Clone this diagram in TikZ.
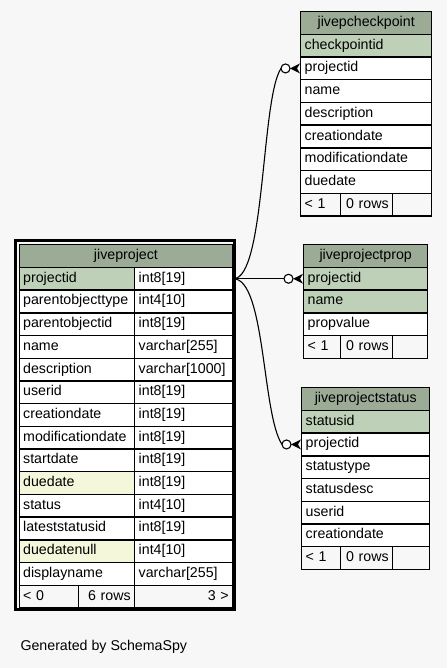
\documentclass[tikz,border=0pt]{standalone}
\usepackage{fontspec}
\setmainfont{Liberation Sans}
\usepackage{tikz}

\definecolor{bgc}{HTML}{F7F7F7}
\definecolor{headc}{HTML}{9BAB96}
\definecolor{pkc}{HTML}{BED1B8}
\definecolor{idxc}{HTML}{F4F7DA}

\begin{document}
\begin{tikzpicture}[x=1pt,y=-1pt]
        \tikzstyle{every node}+=[font=\fontsize{14.2}{16}\selectfont]
        \tikzstyle{cell}=[draw=black, line width=1.4pt, anchor=north west, minimum height=22.7pt,
                          inner xsep=4pt, inner ysep=0pt, text height=10pt, text depth=3pt, align=left]
        \tikzstyle{head}=[cell, fill=headc, align=center]
        \tikzstyle{foot}=[cell, fill=bgc]
        \tikzstyle{rel}=[line width=1.1pt]
        \fill [bgc] (0,0) rectangle (447,668);
        \useasboundingbox (0,0) rectangle (447,668);
        % jivepcheckpoint
        \node [head, text width=123pt] (cp-0) at (300,11) {jivepcheckpoint};
        \foreach \txt/\clr [count=\i] in {checkpointid/pkc, projectid/white, name/white, description/white,
                creationdate/white, modificationdate/white, duedate/white}
            \node [cell, fill=\clr, text width=123pt] (cp-\i) at (300,{11+22.7*\i}) {\txt};
        \node [foot, text width=32pt] (cp-f1) at (300,192.6) {< 1};
        \node [foot, text width=44pt, align=right] (cp-f2) at (340,192.6) {0 rows};
        \node [foot, text width=31pt] (cp-f3) at (392,192.6) {};
        % jiveprojectprop
        \node [head, text width=116pt] (pp-0) at (303,244) {jiveprojectprop};
        \foreach \txt/\clr [count=\i] in {projectid/pkc, name/pkc, propvalue/white}
            \node [cell, fill=\clr, text width=116pt] (pp-\i) at (303,{244+22.7*\i}) {\txt};
        \node [foot, text width=29pt] (pp-f1) at (303,334.8) {< 1};
        \node [foot, text width=44pt, align=right] (pp-f2) at (340,334.8) {0 rows};
        \node [foot, text width=27pt] (pp-f3) at (392,334.8) {};
        % jiveprojectstatus
        \node [head, text width=120pt] (ps-0) at (301,387) {jiveprojectstatus};
        \foreach \txt/\clr [count=\i] in {statusid/pkc, projectid/white, statustype/white, statusdesc/white,
                userid/white, creationdate/white}
            \node [cell, fill=\clr, text width=120pt] (ps-\i) at (301,{387+22.7*\i}) {\txt};
        \node [foot, text width=31pt] (ps-f1) at (301,545.9) {< 1};
        \node [foot, text width=44pt, align=right] (ps-f2) at (340,545.9) {0 rows};
        \node [foot, text width=29pt] (ps-f3) at (392,545.9) {};
        % jiveproject
        \node [head, text width=205.5pt] (jp-0) at (18.5,244) {jiveproject};
        \foreach \txt/\typ/\clr [count=\i] in {projectid/{int8[19]}/pkc, parentobjecttype/{int4[10]}/white,
                parentobjectid/{int8[19]}/white, name/{varchar[255]}/white, description/{varchar[1000]}/white,
                userid/{int8[19]}/white, creationdate/{int8[19]}/white, modificationdate/{int8[19]}/white,
                startdate/{int8[19]}/white, duedate/{int8[19]}/idxc, status/{int4[10]}/white,
                lateststatusid/{int8[19]}/white, duedatenull/{int4[10]}/idxc, displayname/{varchar[255]}/white}
        {
            \node [cell, fill=\clr, text width=107.5pt] (jp-\i) at (18.5,{244+22.7*\i}) {\txt};
            \node [cell, fill=white, text width=90pt] (jp-t\i) at (134,{244+22.7*\i}) {\typ};
        }
        \node [foot, text width=51.5pt] (jp-f1) at (18.5,584.5) {< 0};
        \node [foot, text width=48pt, align=right] (jp-f2) at (78,584.5) {6 rows};
        \node [foot, text width=90pt, align=right] (jp-f3) at (134,584.5) {3 >};
        \draw [line width=3pt] (15.5,240.5) rectangle (234.5,609.5);
        % relations
        \coordinate (cp-in) at ([xshift=-19pt]cp-2.west);
        \coordinate (pp-in) at ([xshift=-19pt]pp-1.west);
        \coordinate (ps-in) at ([xshift=-19pt]ps-2.west);
        \draw [rel] (jp-t1.east) .. controls +(32,0) and +(-20,30) .. (cp-in);
        \draw [rel] (jp-t1.east) -- (pp-in);
        \draw [rel] (jp-t1.east) .. controls +(32,0) and +(-20,-30) .. (ps-in);
        \foreach \t in {cp-2,pp-1,ps-2} {
            \fill [black] ([xshift=-10pt]\t.west) -- ([yshift=5pt]\t.west) -- ([xshift=-3pt]\t.west)
                -- ([yshift=-5pt]\t.west) -- cycle;
            \draw [rel, fill=white] ([xshift=-14.5pt]\t.west) circle (4.5);
        }
        \node [anchor=base west] (gen) at (17,650) {Generated by SchemaSpy};
\end{tikzpicture}
\end{document}
